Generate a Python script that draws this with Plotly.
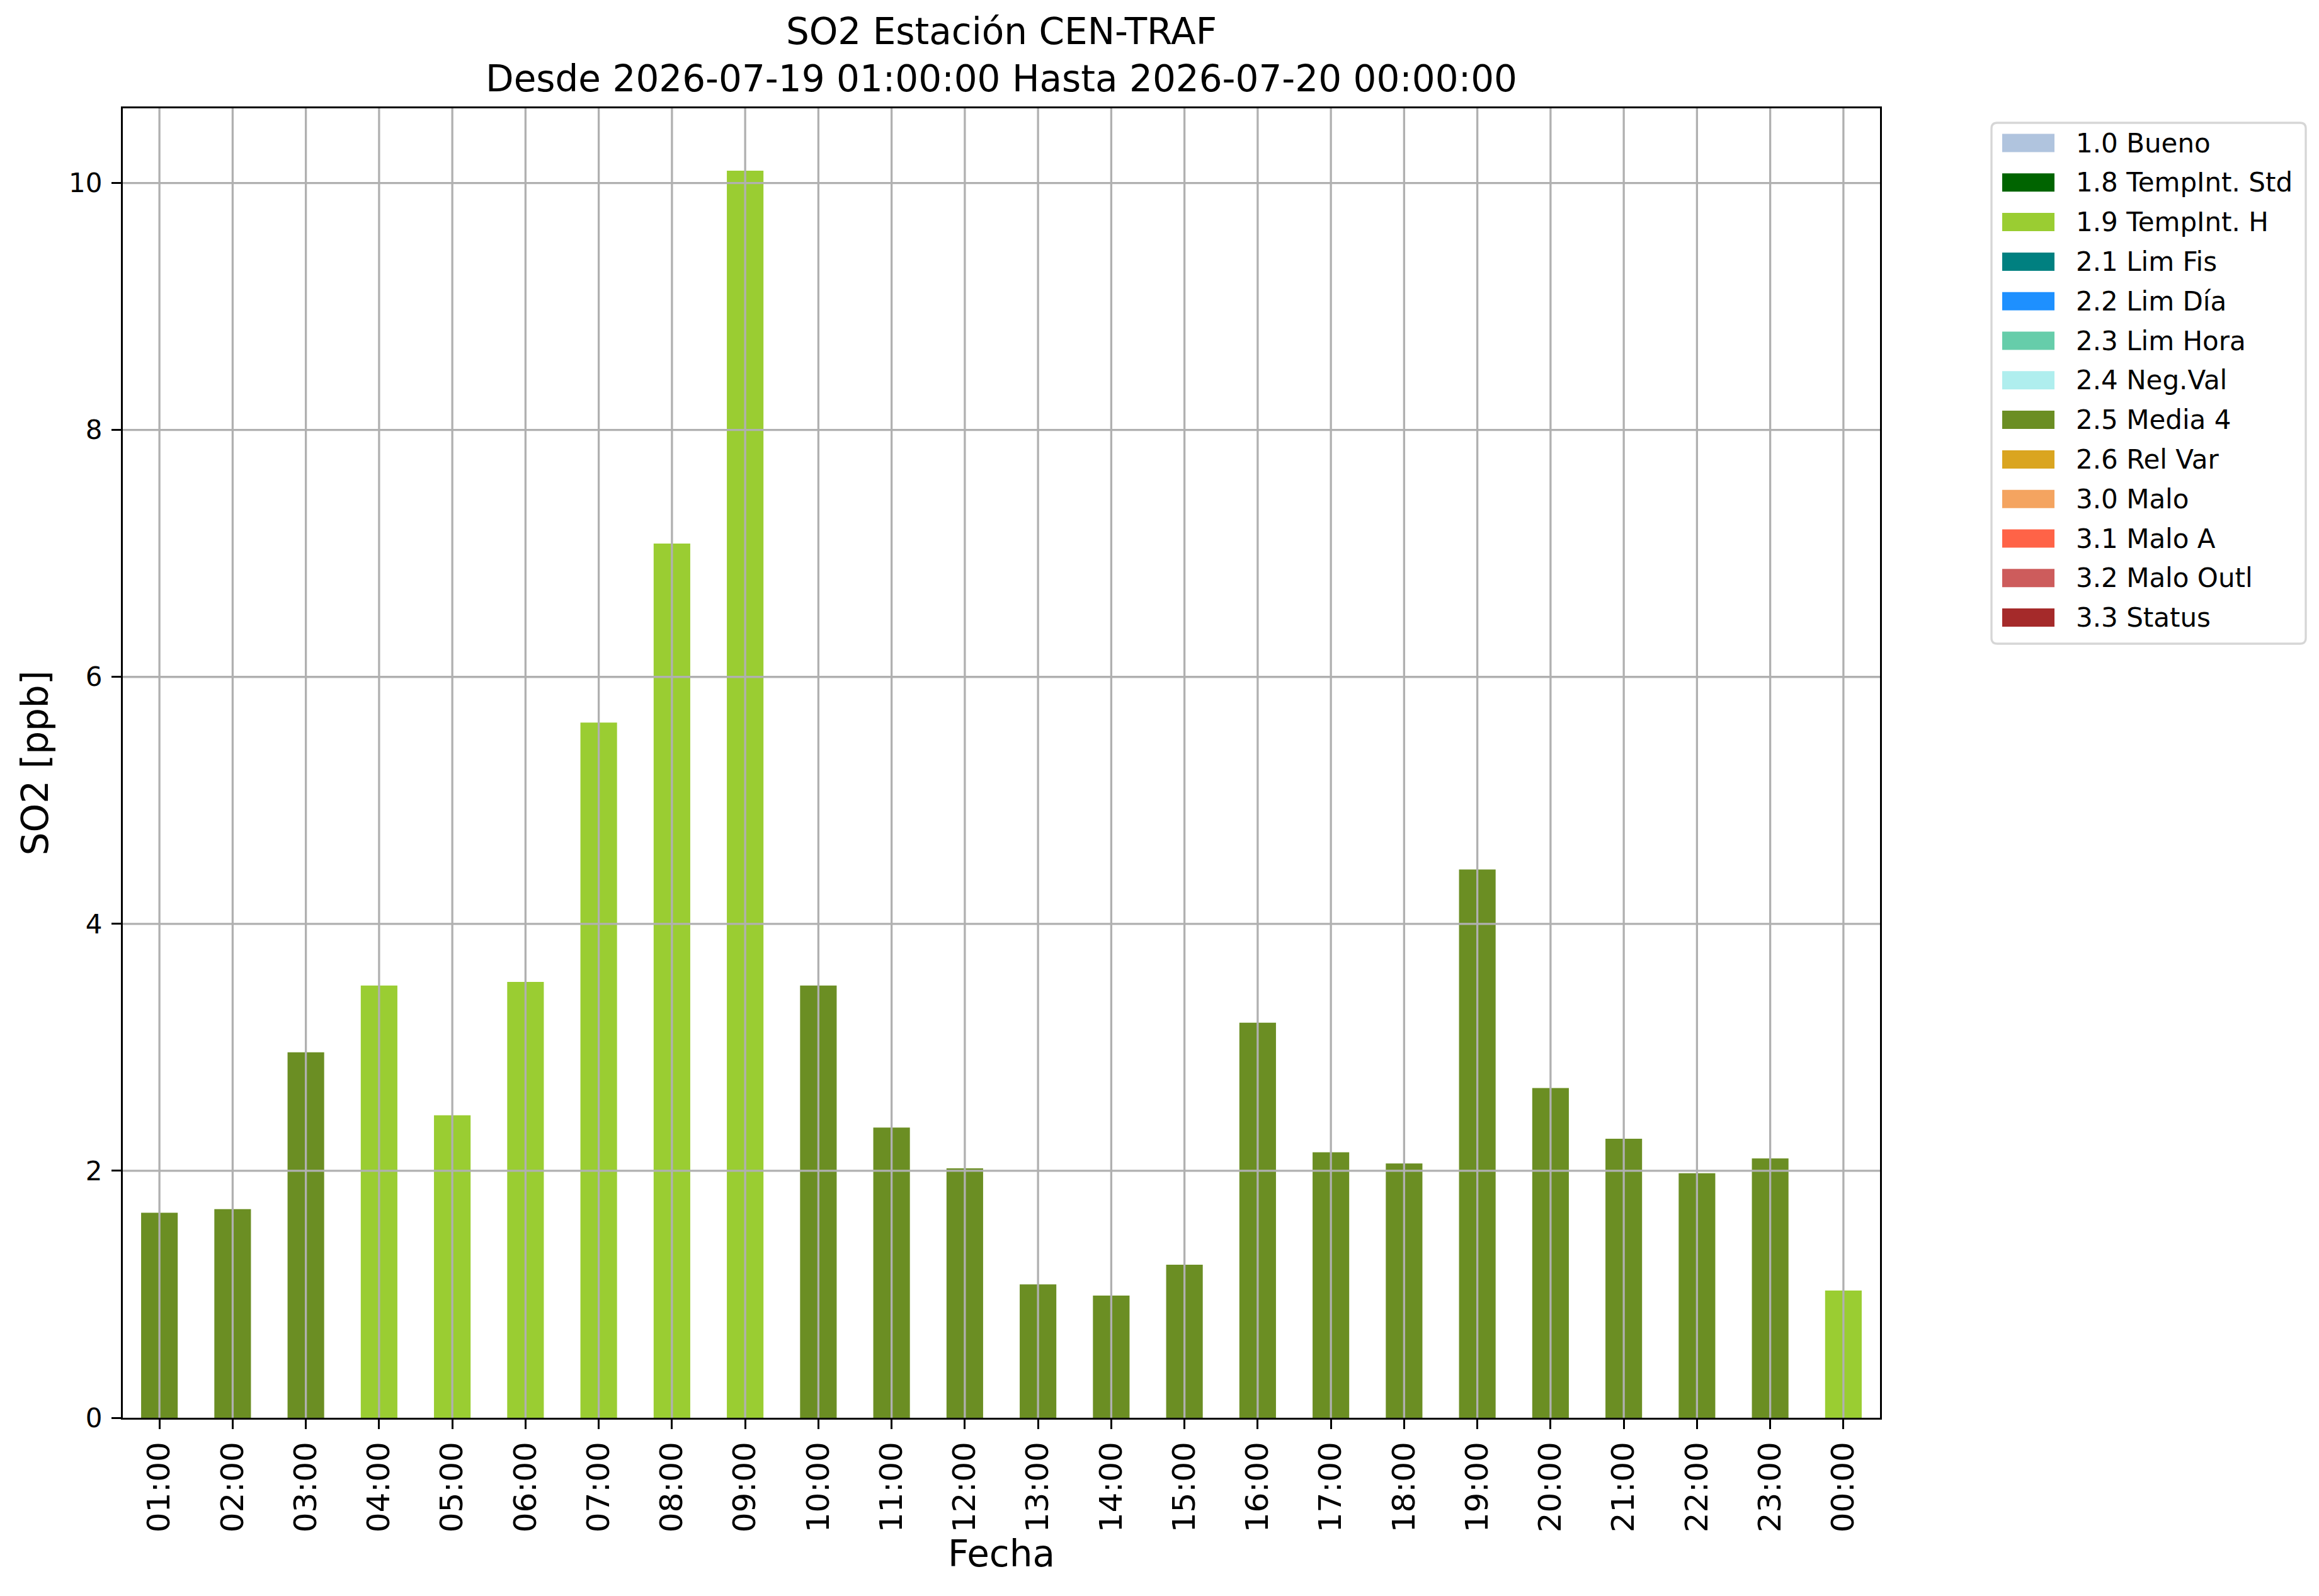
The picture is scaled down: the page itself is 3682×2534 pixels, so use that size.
import plotly.graph_objects as go

# Datos horarios de SO2, estación CEN-TRAF
horas = ["01:00", "02:00", "03:00", "04:00", "05:00", "06:00", "07:00", "08:00",
         "09:00", "10:00", "11:00", "12:00", "13:00", "14:00", "15:00", "16:00",
         "17:00", "18:00", "19:00", "20:00", "21:00", "22:00", "23:00", "00:00"]
so2 = [1.66, 1.69, 2.96, 3.50, 2.45, 3.53, 5.63, 7.08,
       10.10, 3.50, 2.35, 2.02, 1.08, 0.99, 1.24, 3.20,
       2.15, 2.06, 4.44, 2.67, 2.26, 1.98, 2.10, 1.03]
flags = ["2.5", "2.5", "2.5", "1.9", "1.9", "1.9", "1.9", "1.9",
         "1.9", "2.5", "2.5", "2.5", "2.5", "2.5", "2.5", "2.5",
         "2.5", "2.5", "2.5", "2.5", "2.5", "2.5", "2.5", "1.9"]

# Códigos de calidad (leyenda)
codigos = ["1.0", "1.8", "1.9", "2.1", "2.2", "2.3", "2.4", "2.5", "2.6", "3.0", "3.1", "3.2", "3.3"]
nombres = ["1.0 Bueno", "1.8 TempInt. Std", "1.9 TempInt. H", "2.1 Lim Fis", "2.2 Lim Día",
           "2.3 Lim Hora", "2.4 Neg.Val", "2.5 Media 4", "2.6 Rel Var", "3.0 Malo",
           "3.1 Malo A", "3.2 Malo Outl", "3.3 Status"]
colores = ["lightsteelblue", "darkgreen", "yellowgreen", "teal", "dodgerblue",
           "mediumaquamarine", "paleturquoise", "olivedrab", "goldenrod", "sandybrown",
           "tomato", "indianred", "brown"]
yticks = [0, 2, 4, 6, 8, 10]

fuente = "DejaVu Sans"
gris = "#b0b0b0"
lw = 3.3

# tamaño de la figura y del área de ejes (px)
W, H = 3682, 2534
ml, mr, mt, mb = 187, 705, 164, 291
pw, ph = W - ml - mr, H - mt - mb


def px_x(p):
    return (p - ml) / pw


def px_y(p):
    return (H - mb - p) / ph


fig = go.Figure()
for cod, nom, col in zip(codigos, nombres, colores):
    y = [v if f == cod else None for v, f in zip(so2, flags)]
    fig.add_trace(go.Bar(x=horas, y=y, name=nom, marker_color=col,
                         marker_line_width=0, width=0.5, showlegend=False))

# rejilla por encima de las barras, como en matplotlib
for h in horas:
    fig.add_shape(type="line", xref="x", yref="paper", x0=h, x1=h, y0=0, y1=1,
                  line=dict(color=gris, width=lw), layer="above")
for t in yticks[1:]:
    fig.add_shape(type="line", xref="paper", yref="y", x0=0, x1=1, y0=t, y1=t,
                  line=dict(color=gris, width=lw), layer="above")

# leyenda fuera del área de ejes, estilo matplotlib
bx0, bx1, by0, by1, r = 3154, 3653, 187, 1014, 9
x0, x1, y0, y1 = px_x(bx0), px_x(bx1), px_y(by0), px_y(by1)
rx, ry = r / pw, r / ph
caja = (f"M{x0 + rx},{y0} L{x1 - rx},{y0} Q{x1},{y0} {x1},{y0 - ry} "
        f"L{x1},{y1 + ry} Q{x1},{y1} {x1 - rx},{y1} L{x0 + rx},{y1} "
        f"Q{x0},{y1} {x0},{y1 + ry} L{x0},{y0 - ry} Q{x0},{y0} {x0 + rx},{y0} Z")
fig.add_shape(type="path", path=caja, xref="paper", yref="paper",
              line=dict(color="#d6d6d6", width=lw), fillcolor="white")
paso = 62.8
for i, (nom, col) in enumerate(zip(nombres, colores)):
    yc = 219 + i * paso
    fig.add_shape(type="rect", xref="paper", yref="paper",
                  x0=px_x(3171), x1=px_x(3254), y0=px_y(yc - 14.5), y1=px_y(yc + 14.5),
                  fillcolor=col, line_width=0)
    fig.add_annotation(text=nom, xref="paper", yref="paper", x=px_x(3286), y=px_y(yc),
                       xanchor="left", yanchor="middle", showarrow=False,
                       font=dict(size=42, family=fuente, color="black"))

fig.update_layout(
    width=W, height=H,
    margin=dict(l=ml, r=mr, t=mt, b=mb),
    plot_bgcolor="white", paper_bgcolor="white",
    font=dict(family=fuente, color="black"),
    barmode="overlay", showlegend=False,
    title=dict(text="SO2 Estación CEN-TRAF<br>Desde 2026-07-19 01:00:00 Hasta 2026-07-20 00:00:00",
               font=dict(size=58), x=(ml + pw / 2) / W,
               xanchor="center", y=1 - 62 / H, yref="container", yanchor="top"),
)
fig.update_xaxes(
    title=dict(text="Fecha", font=dict(size=58), standoff=4),
    tickangle=-90, tickfont=dict(size=50),
    showline=True, linecolor="black", linewidth=lw, mirror=True,
    ticks="outside", ticklen=15, tickwidth=lw, tickcolor="black",
    showgrid=False, ticklabelstandoff=0,
)
fig.update_yaxes(
    title=dict(text="SO2 [ppb]", font=dict(size=58), standoff=14),
    range=[0, max(so2) * 1.05], tickvals=yticks, tickfont=dict(size=42),
    showline=True, linecolor="black", linewidth=lw, mirror=True,
    ticks="outside", ticklen=15, tickwidth=lw, tickcolor="black",
    showgrid=False, zeroline=False, ticklabelstandoff=6,
)

fig.write_html("out.html")
